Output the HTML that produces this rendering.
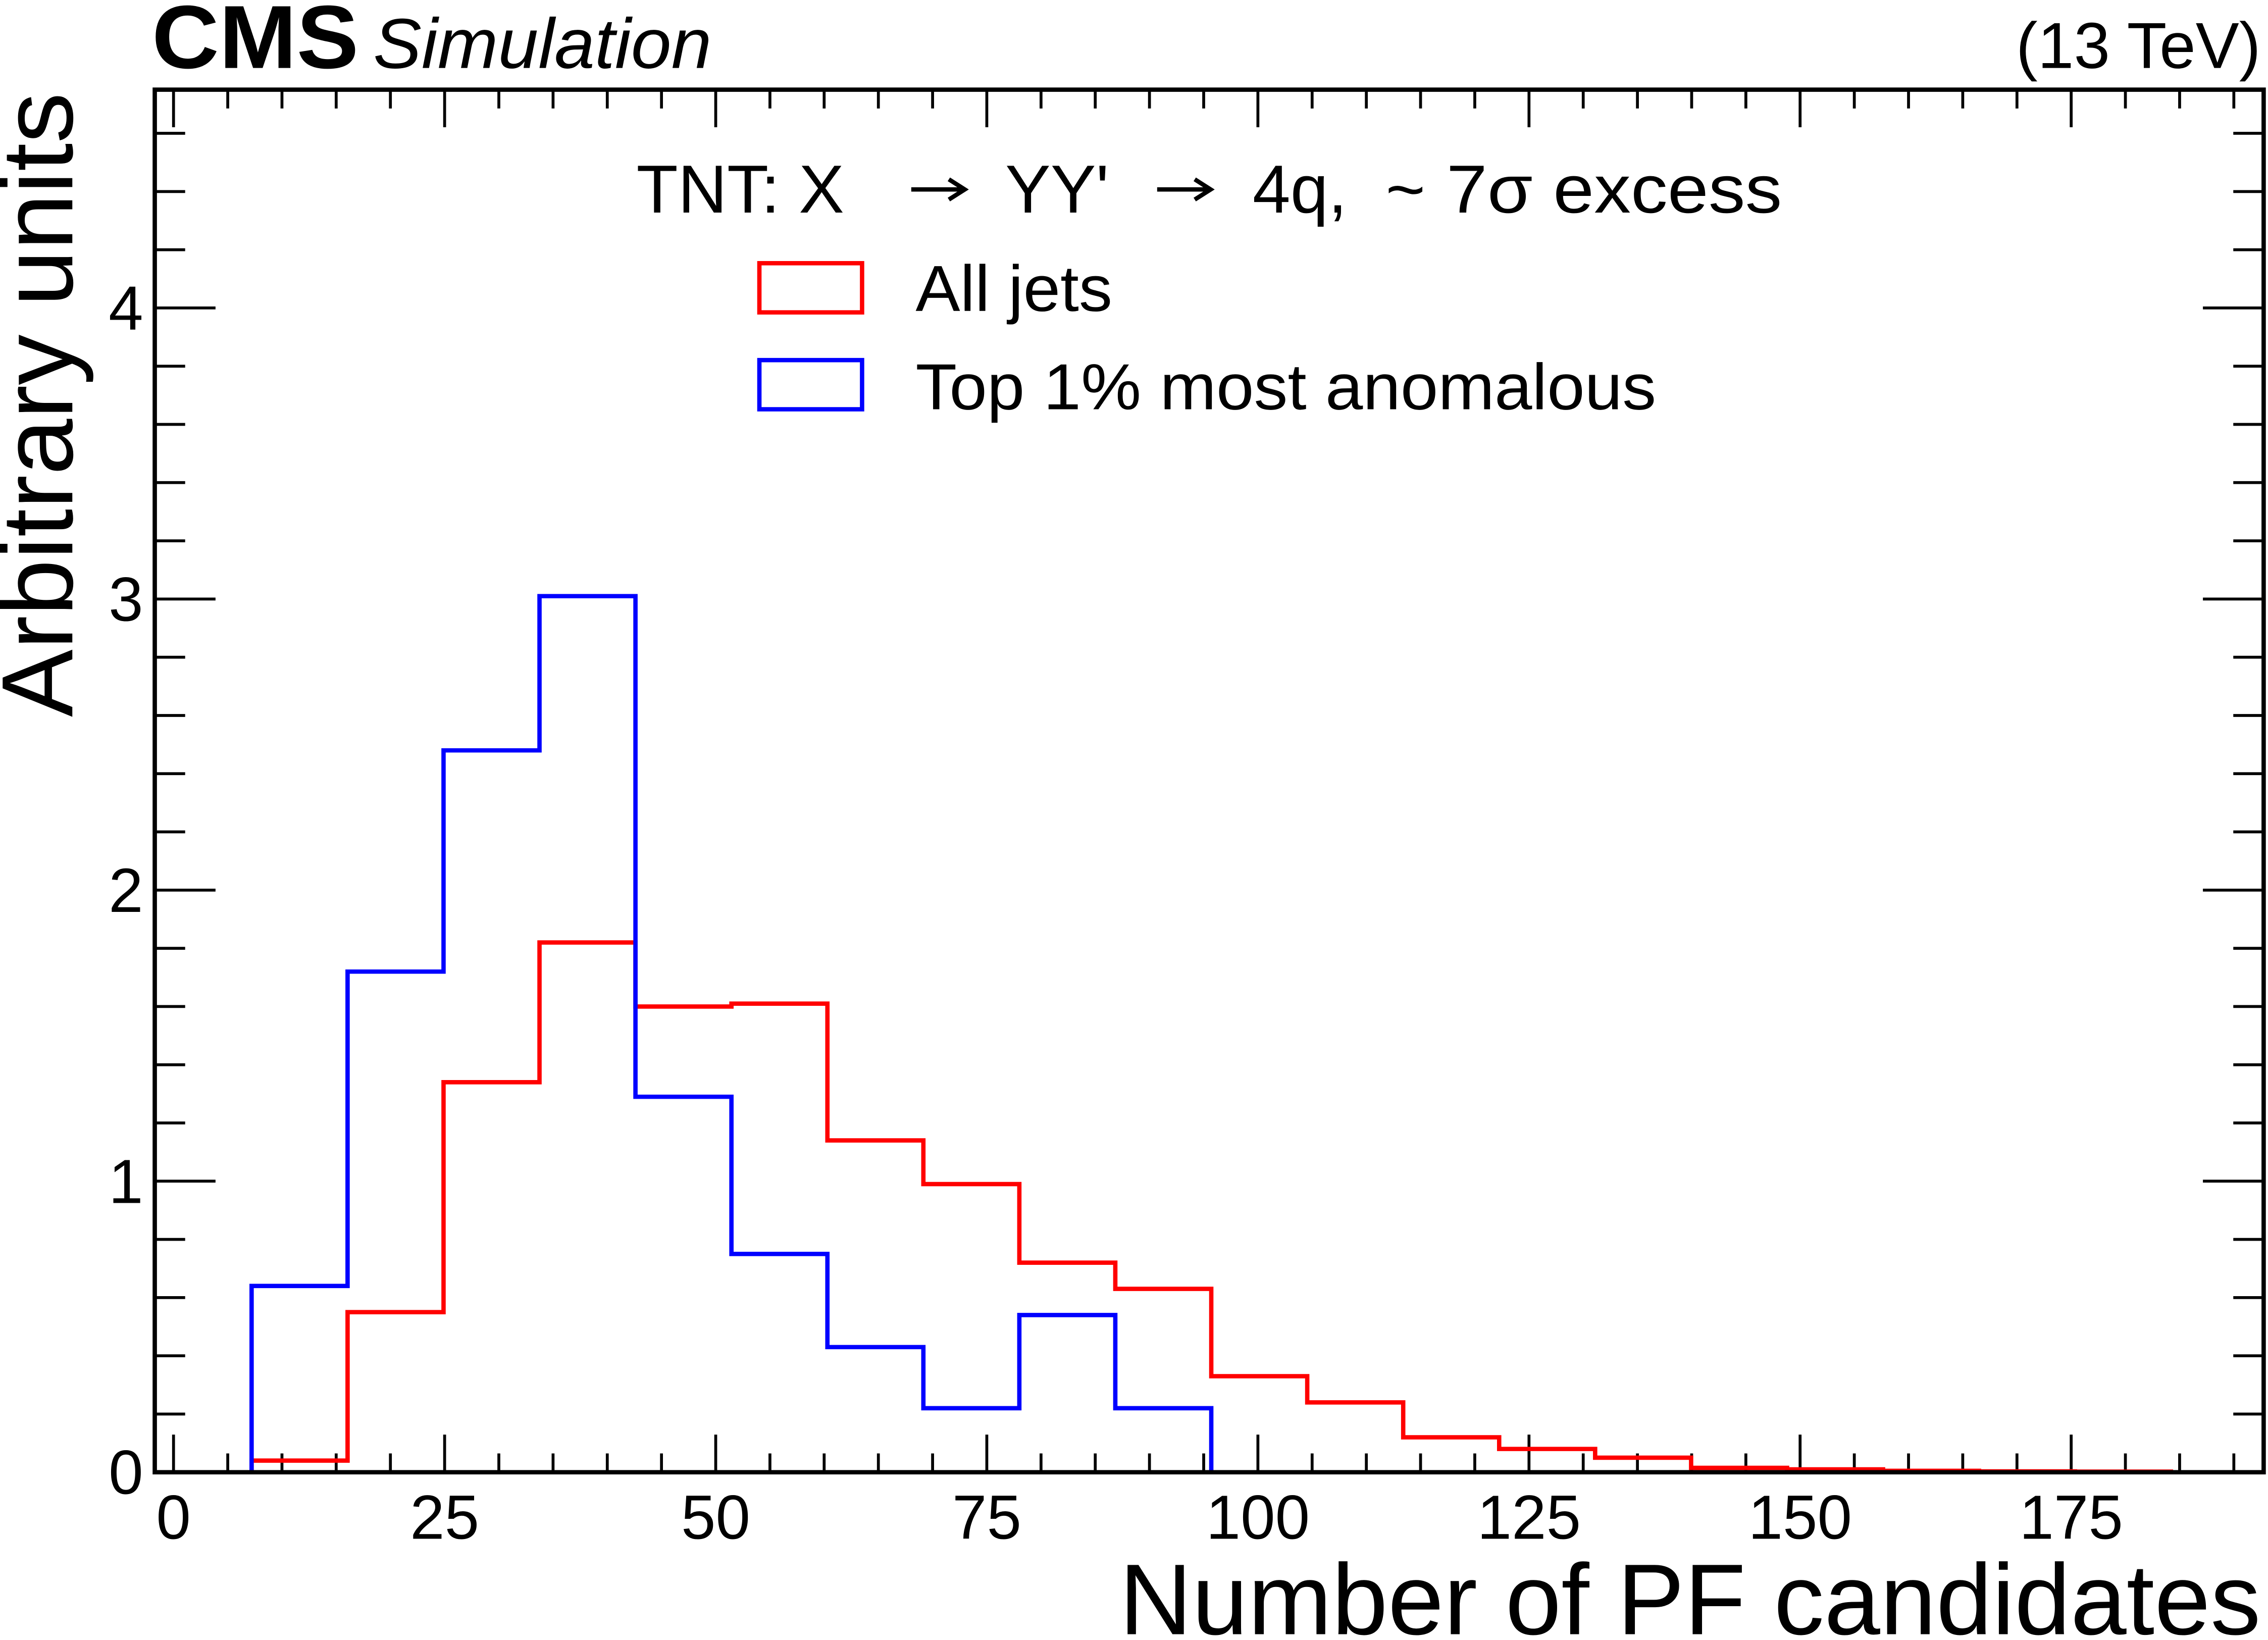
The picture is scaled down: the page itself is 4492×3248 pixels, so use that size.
<!DOCTYPE html>
<html><head><meta charset="utf-8"><style>
html,body{margin:0;padding:0;background:#fff;}
svg{display:block;font-family:"Liberation Sans",sans-serif;}
</style></head><body>
<svg id="chart" width="4492" height="3248" viewBox="0 0 1568 1134" preserveAspectRatio="none" xmlns="http://www.w3.org/2000/svg">
<g id="axes"></g>
<g id="series"></g>
<rect x="107" y="62" width="1458" height="956" fill="none" stroke="#000" stroke-width="3"/>
<text x="105" y="47" font-size="62" font-weight="bold" textLength="143" lengthAdjust="spacingAndGlyphs">CMS</text>
<text x="258" y="47" font-size="49" font-style="italic" textLength="234" lengthAdjust="spacingAndGlyphs">Simulation</text>
<text x="1563" y="47" font-size="45" text-anchor="end">(13 TeV)</text>
<g font-size="47">
<text x="440" y="147">TNT: X</text>
<g stroke="#000" stroke-width="3" fill="none">
<line x1="630" y1="131" x2="666" y2="131"/><polyline points="656,124 667,131 656,138"/></g>
<text x="695" y="147">YY'</text>
<g stroke="#000" stroke-width="3" fill="none">
<line x1="800" y1="131" x2="836" y2="131"/><polyline points="826,124 837,131 826,138"/></g>
<text x="866" y="147">4q,</text>
<text x="958" y="147">~</text>
<text x="1000" y="147" textLength="232" lengthAdjust="spacingAndGlyphs">7σ excess</text>
</g>
<rect x="525" y="182" width="71" height="34" fill="none" stroke="#ff0000" stroke-width="3"/>
<text x="633" y="215" font-size="45" textLength="136" lengthAdjust="spacingAndGlyphs">All jets</text>
<rect x="525" y="249" width="71" height="34" fill="none" stroke="#0000ff" stroke-width="3"/>
<text x="633" y="283" font-size="45" textLength="512" lengthAdjust="spacingAndGlyphs">Top 1% most anomalous</text>
<text transform="translate(50,64) rotate(-90)" font-size="70" text-anchor="end">Arbitrary units</text>
<text x="1563" y="1130" font-size="69.6" text-anchor="end">Number of PF candidates</text>
</svg>
<script>
const binStart = 7.2;
const binWidth = 8.85;
const redValues = [0.04,0.55,1.34,1.82,1.60,1.61,1.14,0.99,0.72,0.63,0.33,0.24,0.12,0.08,0.05,0.015,0.01,0.005,0.003,0.002];
const blueValues = [0.64,1.72,2.48,3.01,1.29,0.75,0.43,0.22,0.54,0.22];
const xTicks = [0,25,50,75,100,125,150,175];
const yTicks = [0,1,2,3,4];
const X0=107,X1=1565,Y0=1018,Y1=62;
const xMin=-1.73,xMax=192.75,yMin=0,yMax=4.75;
function sx(v){return X0+(v-xMin)/(xMax-xMin)*(X1-X0);}
function sy(v){return Y0-(v-yMin)/(yMax-yMin)*(Y0-Y1);}
const NS="http://www.w3.org/2000/svg";
const axes=document.getElementById('axes'),series=document.getElementById('series');
function line(p,x1,y1,x2,y2,name){const l=document.createElementNS(NS,'line');
l.setAttribute('x1',x1);l.setAttribute('y1',y1);l.setAttribute('x2',x2);l.setAttribute('y2',y2);
l.setAttribute('stroke','#000');l.setAttribute('stroke-width','2');


p.appendChild(l);}
for(let v=0;v<=190;v+=5){const x=sx(v);const major=v%25===0;const L=major?26:13;
line(axes,x,Y0,x,Y0-L,'x-tick');line(axes,x,Y1,x,Y1+L,'x-tick-top');}
for(let i=0;i<=23;i++){const v=i*0.2;const y=sy(v);const major=i%5===0;const L=major?42:21;
line(axes,X0,y,X0+L,y,'y-tick');line(axes,X1,y,X1-L,y,'y-tick-right');}
xTicks.forEach(v=>{const t=document.createElementNS(NS,'text');t.setAttribute('x',sx(v));t.setAttribute('y',1064);
t.setAttribute('font-size','43');t.setAttribute('text-anchor','middle');t.textContent=v;


axes.appendChild(t);});
yTicks.forEach(v=>{const t=document.createElementNS(NS,'text');t.setAttribute('x',99);t.setAttribute('y',sy(v)+15);
t.setAttribute('font-size','43');t.setAttribute('text-anchor','end');t.textContent=v;


axes.appendChild(t);});
function hist(vals,color,name){let d='M'+sx(binStart)+','+sy(0);
vals.forEach((v,i)=>{const a=sx(binStart+i*binWidth),b=sx(binStart+(i+1)*binWidth);d+=' L'+a+','+sy(v)+' L'+b+','+sy(v);});
d+=' L'+sx(binStart+vals.length*binWidth)+','+sy(0);
const p=document.createElementNS(NS,'path');p.setAttribute('d',d);p.setAttribute('fill','none');p.setAttribute('stroke',color);p.setAttribute('stroke-width','3');


series.appendChild(p);}
hist(redValues,'#ff0000','all-jets-histogram');
hist(blueValues,'#0000ff','top1-histogram');
</script>
</body></html>
